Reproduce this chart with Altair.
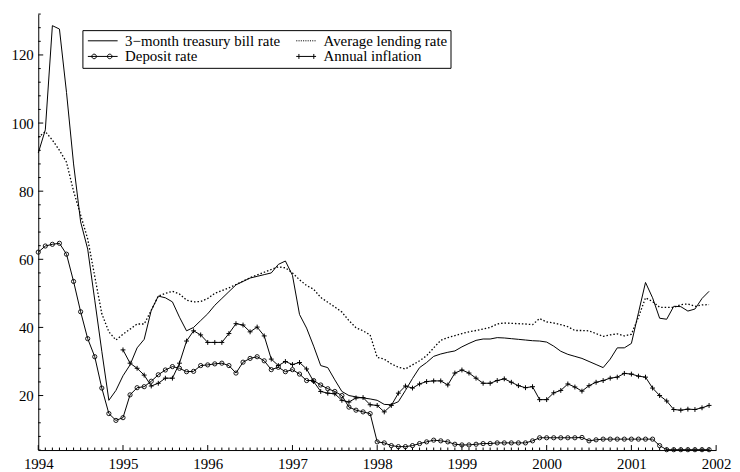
import altair as alt
import pandas as pd

# ---- data (monthly, Jan 1994 - Dec 2001) ----
START_YEAR = 1994
tbill = [91.2, 98.0, 128.6, 127.6, 109.0, 88.0, 71.0, 63.0, 48.0, 33.0, 18.6, 21.5,
         25.8, 29.0, 34.0, 36.5, 45.0, 49.2, 48.7, 47.5, 43.0, 39.0, 40.0, 42.0,
         44.0, 46.5, 48.5, 50.5, 52.5, 53.5, 54.5, 55.0, 55.5, 56.0, 58.5, 59.5,
         55.3, 43.8, 39.8, 34.5, 28.8, 28.2, 24.6, 21.2, 20.0, 19.6, 19.3, 19.0,
         18.6, 17.4, 17.3, 18.2, 21.5, 25.0, 28.2, 29.7, 31.5, 32.2, 32.7, 33.1,
         34.3, 35.3, 36.2, 36.6, 36.6, 37.0, 36.9, 36.7, 36.5, 36.3, 36.1, 36.0,
         35.7, 34.5, 33.0, 32.1, 31.5, 30.9, 30.0, 29.1, 28.2, 30.7, 34.0, 34.0,
         35.3, 44.3, 53.2, 48.7, 42.7, 42.4, 46.2, 46.1, 44.8, 45.4, 48.5, 50.6]
lending = [95.8, 97.5, 95.0, 92.0, 88.5, 80.0, 73.0, 66.0, 55.0, 44.0, 38.7, 36.3,
           38.0, 39.5, 41.0, 41.0, 45.0, 49.2, 50.0, 50.6, 49.8, 48.0, 47.5, 47.6,
           48.5, 50.0, 50.8, 51.6, 52.6, 53.6, 54.6, 55.4, 56.2, 57.0, 57.8, 57.5,
           56.0, 54.0, 52.3, 51.2, 48.8, 47.4, 46.0, 44.5, 42.0, 39.9, 39.0, 37.8,
           31.2, 30.7, 29.3, 28.3, 27.8, 29.0, 30.2, 31.7, 34.0, 36.2, 37.0, 37.6,
           38.2, 38.7, 39.1, 39.5, 40.0, 41.0, 41.3, 41.2, 41.1, 41.0, 40.8, 42.6,
           41.6, 41.3, 40.8, 40.2, 39.1, 39.1, 39.0, 38.2, 37.4, 37.8, 38.1, 37.5,
           38.0, 43.0, 48.7, 47.6, 45.9, 45.9, 45.9, 46.7, 46.9, 46.2, 46.6, 46.7]
deposit = [62.1, 63.9, 64.4, 64.7, 61.5, 53.5, 44.6, 36.7, 31.4, 22.2, 14.7, 12.7,
           13.5, 20.2, 22.3, 22.6, 24.2, 26.1, 27.5, 28.5, 28.0, 27.0, 27.1, 28.8,
           29.0, 29.3, 29.5, 28.8, 26.6, 29.8, 30.9, 31.4, 30.2, 27.6, 28.3, 27.0,
           27.6, 26.3, 24.4, 24.4, 23.1, 22.0, 21.2, 20.0, 16.6, 15.7, 15.2, 14.7,
           6.4, 6.1, 5.3, 5.0, 5.0, 5.3, 5.9, 6.4, 6.9, 6.7, 6.4, 5.7,
           5.5, 5.5, 5.7, 5.9, 5.9, 6.1, 6.1, 6.1, 6.1, 6.1, 6.7, 7.6,
           7.6, 7.6, 7.6, 7.6, 7.6, 7.7, 6.7, 7.0, 7.2, 7.2, 7.2, 7.2,
           7.2, 7.2, 7.2, 7.2, 5.3, 4.1, 4.1, 4.1, 4.1, 4.1, 4.1, 4.1]
# annual inflation starts Jan 1995
inflation = [33.4, 29.5, 28.0, 26.0, 22.8, 23.6, 25.1, 25.1, 29.5, 36.0, 39.0, 37.8,
             35.6, 35.6, 35.6, 38.2, 41.1, 40.7, 38.7, 40.1, 37.5, 30.7, 28.8, 30.0,
             29.1, 29.7, 27.8, 24.1, 21.2, 20.7, 20.5, 18.6, 18.1, 19.3, 19.4, 17.3,
             17.1, 15.2, 17.1, 20.7, 22.8, 22.2, 23.4, 24.1, 24.3, 24.3, 23.1, 26.6,
             27.5, 26.6, 25.1, 23.6, 23.6, 24.4, 24.9, 23.9, 22.9, 22.3, 22.6, 18.8,
             18.8, 20.8, 21.5, 23.4, 22.5, 21.3, 22.9, 23.9, 24.4, 25.1, 25.4, 26.5,
             26.3, 25.7, 25.4, 22.2, 20.0, 18.4, 15.9, 15.7, 16.0, 15.9, 16.4, 17.1]

S1 = "3\u2212month treasury bill rate"
S2 = "Average lending rate"
S3 = "Deposit rate"
S4 = "Annual inflation"
# legend fills column by column: col 1 = S1, S3 ; col 2 = S2, S4
legend_order = [S1, S3, S2, S4]

x_years = list(range(1994, 2003))
y_labels = [20, 40, 60, 80, 100, 120]

rows = []
for name, vals, off in [(S1, tbill, 0), (S2, lending, 0), (S3, deposit, 0), (S4, inflation, 12)]:
    for i, v in enumerate(vals):
        rows.append({"t": START_YEAR + (i + off) / 12.0, "value": v, "series": name})
df = pd.DataFrame(rows)

# ---- layout ----
W, H = 683.2, 439.4
FONT = "Liberation Serif, Times New Roman, Times, serif"

xscale = alt.Scale(domain=[1994, 2002], nice=False, zero=False)
yscale = alt.Scale(domain=[4, 132], nice=False, zero=False)
xaxis = alt.Axis(values=x_years, format="d", tickSize=0, labelPadding=7, grid=False,
                 domainColor="black", domainWidth=1, labelFont=FONT, labelFontSize=15,
                 labelColor="black", title=None, labelFlush=False)
yaxis = alt.Axis(values=y_labels, format="d", tickSize=0, labelPadding=5, grid=False,
                 domainColor="black", domainWidth=1, labelFont=FONT, labelFontSize=15,
                 labelColor="black", title=None)

X = alt.X("t:Q", scale=xscale, axis=xaxis)
Y = alt.Y("value:Q", scale=yscale, axis=yaxis)

base = alt.Chart(df)

def sel(name):
    return base.transform_filter(alt.datum.series == name)

l_tbill = sel(S1).mark_line(color="black", strokeWidth=1).encode(x=X, y=Y)
l_lend = sel(S2).mark_line(color="black", strokeWidth=1.3, strokeDash=[1.5, 2]).encode(x=X, y=Y)
l_dep = sel(S3).mark_line(color="black", strokeWidth=1).encode(x=X, y=Y)
p_dep = sel(S3).mark_point(shape="circle", filled=False, color="black", size=18,
                           strokeWidth=0.9, opacity=1).encode(x=X, y=Y)
l_inf = sel(S4).mark_line(color="black", strokeWidth=1).encode(x=X, y=Y)
p_inf = sel(S4).mark_point(shape="M-1,0H1M0,-1V1", filled=False, color="black", size=24,
                           strokeWidth=1, opacity=1).encode(x=X, y=Y)

# legend symbols (unit = 5px, symbol centre 5.5px from entry left)
def circ(cx, r):
    return f"M{cx - r:.3f},0A{r},{r} 0 1,0 {cx + r:.3f},0A{r},{r} 0 1,0 {cx - r:.3f},0"

dots = "".join(f"M{1 + k * 0.46:.3f},0h0.22" for k in range(9))
sym_by_series = {
    S1: "M-1,0H5",
    S2: dots,
    S3: "M-1,0H5" + circ(0.26, 0.46) + circ(3.4, 0.46),
    S4: "M1,0H5M1.54,-0.5V0.5M4.54,-0.5V0.5",
}
legend = alt.Legend(orient="none", legendX=44.5, legendY=16.2, columns=2, title=None,
                    labelFont=FONT, labelFontSize=15, labelColor="black", labelLimit=400,
                    symbolSize=100, symbolStrokeColor="black", symbolStrokeWidth=1,
                    symbolFillColor="transparent", labelOffset=25, rowPadding=0,
                    columnPadding=3, padding=3, strokeColor="black", fillColor="white",
                    symbolOpacity=1)
leg_layer = base.transform_filter("datum.value < -1000").mark_point(
    filled=False, color="black", size=100, strokeWidth=1).encode(
    x=X, y=Y,
    shape=alt.Shape("series:N",
                    scale=alt.Scale(domain=legend_order,
                                    range=[sym_by_series[s] for s in legend_order]),
                    sort=legend_order, legend=legend))

# inward ticks
xt_minor = [START_YEAR + k / 12.0 for k in range(97) if k % 12 != 0]
yt_minor = [v for v in range(4, 133, 4) if v % 20 != 0]
tx_minor = alt.Chart(pd.DataFrame({"t": xt_minor})).mark_rule(color="black", strokeWidth=1).encode(
    x=X, y=alt.value(H), y2=alt.value(H - 2.5))
tx_major = alt.Chart(pd.DataFrame({"t": x_years})).mark_rule(color="black", strokeWidth=1).encode(
    x=X, y=alt.value(H), y2=alt.value(H - 5))
ty_minor = alt.Chart(pd.DataFrame({"value": yt_minor})).mark_rule(color="black", strokeWidth=1).encode(
    y=Y, x=alt.value(0), x2=alt.value(2.5))
ty_major = alt.Chart(pd.DataFrame({"value": y_labels})).mark_rule(color="black", strokeWidth=1).encode(
    y=Y, x=alt.value(0), x2=alt.value(5))

chart = alt.layer(
    tx_minor, tx_major, ty_minor, ty_major,
    l_lend, l_tbill, l_dep, p_dep, l_inf, p_inf, leg_layer
).properties(
    width=W, height=H,
    autosize=alt.AutoSizeParams(type="none"),
    padding={"left": 30.5, "top": 4.3, "right": 16, "bottom": 19.5},
    background="white",
).configure(font=FONT).configure_axis(
    labelFont=FONT, labelFontSize=15, labelColor="black"
).configure_legend(labelFont=FONT).configure_view(stroke=None)

chart.save("out.html", embed_options={"renderer": "svg", "actions": False})
